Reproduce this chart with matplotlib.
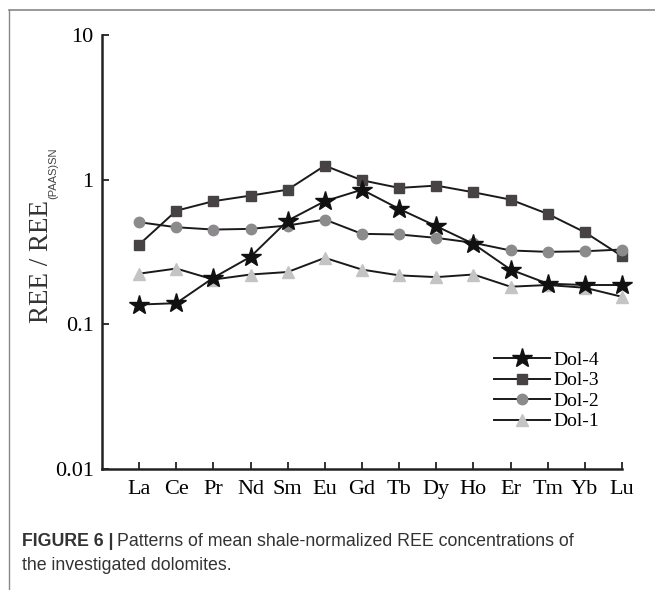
import numpy as np
import matplotlib
matplotlib.use("Agg")
import matplotlib.pyplot as plt
from matplotlib.lines import Line2D

plt.rcParams['font.family'] = ['Liberation Serif', 'DejaVu Serif']

elements = ["La", "Ce", "Pr", "Nd", "Sm", "Eu", "Gd", "Tb", "Dy", "Ho", "Er", "Tm", "Yb", "Lu"]

dol4 = [0.137, 0.140, 0.210, 0.293, 0.521, 0.710, 0.853, 0.628, 0.477, 0.360, 0.239, 0.191, 0.187, 0.187]
dol3 = [0.356, 0.610, 0.710, 0.776, 0.853, 1.250, 0.990, 0.877, 0.910, 0.818, 0.728, 0.580, 0.433, 0.296]
dol2 = [0.508, 0.469, 0.452, 0.457, 0.482, 0.530, 0.422, 0.418, 0.396, 0.366, 0.324, 0.317, 0.320, 0.329]
dol1 = [0.224, 0.243, 0.204, 0.221, 0.230, 0.288, 0.239, 0.218, 0.212, 0.221, 0.182, 0.187, 0.179, 0.155]

W, H = 655, 590
fig = plt.figure(figsize=(6.55, 5.9), dpi=100)
ax = fig.add_axes([102 / W, 1 - 469 / H, 520 / W, 434 / H])

x = np.arange(len(elements))
l1, = ax.plot(x, dol1, '-', color='#1a1a1a', lw=1.4, marker='^', ms=8.5,
              mfc='#c4c4c4', mec='#c4c4c4', zorder=2, clip_on=False, label='Dol-1')
l3, = ax.plot(x, dol3, '-', color='#1a1a1a', lw=1.4, marker='s', ms=7.5,
              mfc='#474345', mec='#474345', zorder=3, clip_on=False, label='Dol-3')
l2, = ax.plot(x, dol2, '-', color='#1a1a1a', lw=1.4, marker='o', ms=7.5,
              mfc='#8c8a8c', mec='#8c8a8c', zorder=4, clip_on=False, label='Dol-2')
l4, = ax.plot(x, dol4, '-', color='#1a1a1a', lw=1.4, marker='*', ms=15,
              mfc='#111111', mec='#111111', zorder=5, clip_on=False, label='Dol-4')

ax.set_yscale('log')
ax.set_ylim(0.01, 10)
ax.set_xlim(-1, 13)
ax.set_yticks([0.01, 0.1, 1, 10])
ax.set_yticklabels(['0.01', '0.1', '1', '10'])
ax.yaxis.set_minor_locator(matplotlib.ticker.NullLocator())
ax.set_xticks(x)
ax.set_xticklabels(elements)
ax.tick_params(direction='in', length=5, width=1.3, labelsize=16, color='#222222')
ax.tick_params(axis='x', pad=8)
ax.tick_params(axis='y', pad=6)
for s in ['top', 'right']:
    ax.spines[s].set_visible(False)
for s in ['left', 'bottom']:
    ax.spines[s].set_linewidth(1.8)
    ax.spines[s].set_color('#222222')

# y label: serif main part with small sans subscript
yl = fig.text(42 / W, 1 - 323 / H, 'REE / REE', rotation=90, ha='center', va='bottom',
              fontsize=19.5, color='#333333')
fig.canvas.draw()
top = yl.get_window_extent().y1
fig.text(53 / W, (top + 1) / fig.bbox.height, '(PAAS)SN', rotation=90, ha='center',
         va='bottom', fontsize=8, color='#444444', family=['Liberation Sans', 'DejaVu Sans'])

leg = ax.legend(handles=[l4, l3, l2, l1], loc='center', bbox_to_anchor=(0.855, 0.18),
                frameon=False, fontsize=14, handlelength=2.9, handletextpad=0.2,
                labelspacing=0.15, borderpad=0)

# page frame lines
fig.add_artist(Line2D([9 / W, 1], [1 - 10 / H, 1 - 10 / H], color='#888888', lw=1.2))
fig.add_artist(Line2D([9 / W, 9 / W], [0, 1 - 10 / H], color='#888888', lw=1.0))

cap_kw = dict(family=['Liberation Sans Narrow', 'Liberation Sans', 'DejaVu Sans'],
              fontsize=12.8, color='#333333', va='center', ha='left')
t = fig.text(22 / W, 1 - 541 / H, 'FIGURE 6 |', fontweight='bold', **cap_kw)
fig.canvas.draw()
bb = t.get_window_extent()
fig.text(bb.x1 / fig.bbox.width + 0.006, 1 - 541 / H,
         'Patterns of mean shale-normalized REE concentrations of', **cap_kw)
fig.text(22 / W, 1 - 565 / H, 'the investigated dolomites.', **cap_kw)

fig.savefig('out.png', dpi=100)
